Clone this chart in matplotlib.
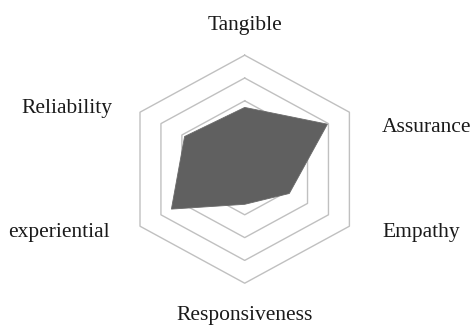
import numpy as np
import matplotlib
matplotlib.use("Agg")
import matplotlib.pyplot as plt

categories = ["Tangible", "Assurance", "Empathy", "Responsiveness", "experiential", "Reliability"]
values = [2.71, 3.95, 2.13, 1.54, 3.5, 2.87]
levels = [1, 2, 3, 4, 5]

n = len(categories)
theta = np.arange(n) * 2 * np.pi / n  # clockwise from top

def hexpts(r):
    r = np.asarray(r, dtype=float) * np.ones(n)
    x = r * np.sin(theta)
    y = r * np.cos(theta)
    return np.append(x, x[0]), np.append(y, y[0])

fig = plt.figure(figsize=(4.74, 3.25), dpi=100)
ax = fig.add_axes([0, 0, 1, 1])
ax.set_xlim(-10.12, 9.483)
ax.set_ylim(-6.833, 7.421)
ax.axis("off")

for lv in levels:
    x, y = hexpts(lv)
    ax.plot(x, y, color="#c0c0c0", lw=1.0, zorder=1)

x, y = hexpts(values)
ax.fill(x, y, color="#606060", lw=0.6, ec="#6a6a6a", zorder=2)

font = dict(family="Liberation Serif", fontsize=15.5, color="#1a1a1a", va="baseline")
ax.text(0, 6.105, categories[0], ha="center", **font)
ax.text(5.678, 1.632, categories[1], ha="left", **font)
ax.text(5.678, -2.974, categories[2], ha="left", **font)
# nudged up a little so the descenders stay inside the picture
ax.text(0, -6.62, categories[3], ha="center", **font)
ax.text(-5.571, -2.974, categories[4], ha="right", **font)
ax.text(-5.488, 2.465, categories[5], ha="right", **font)

fig.savefig("out.png", dpi=100)
